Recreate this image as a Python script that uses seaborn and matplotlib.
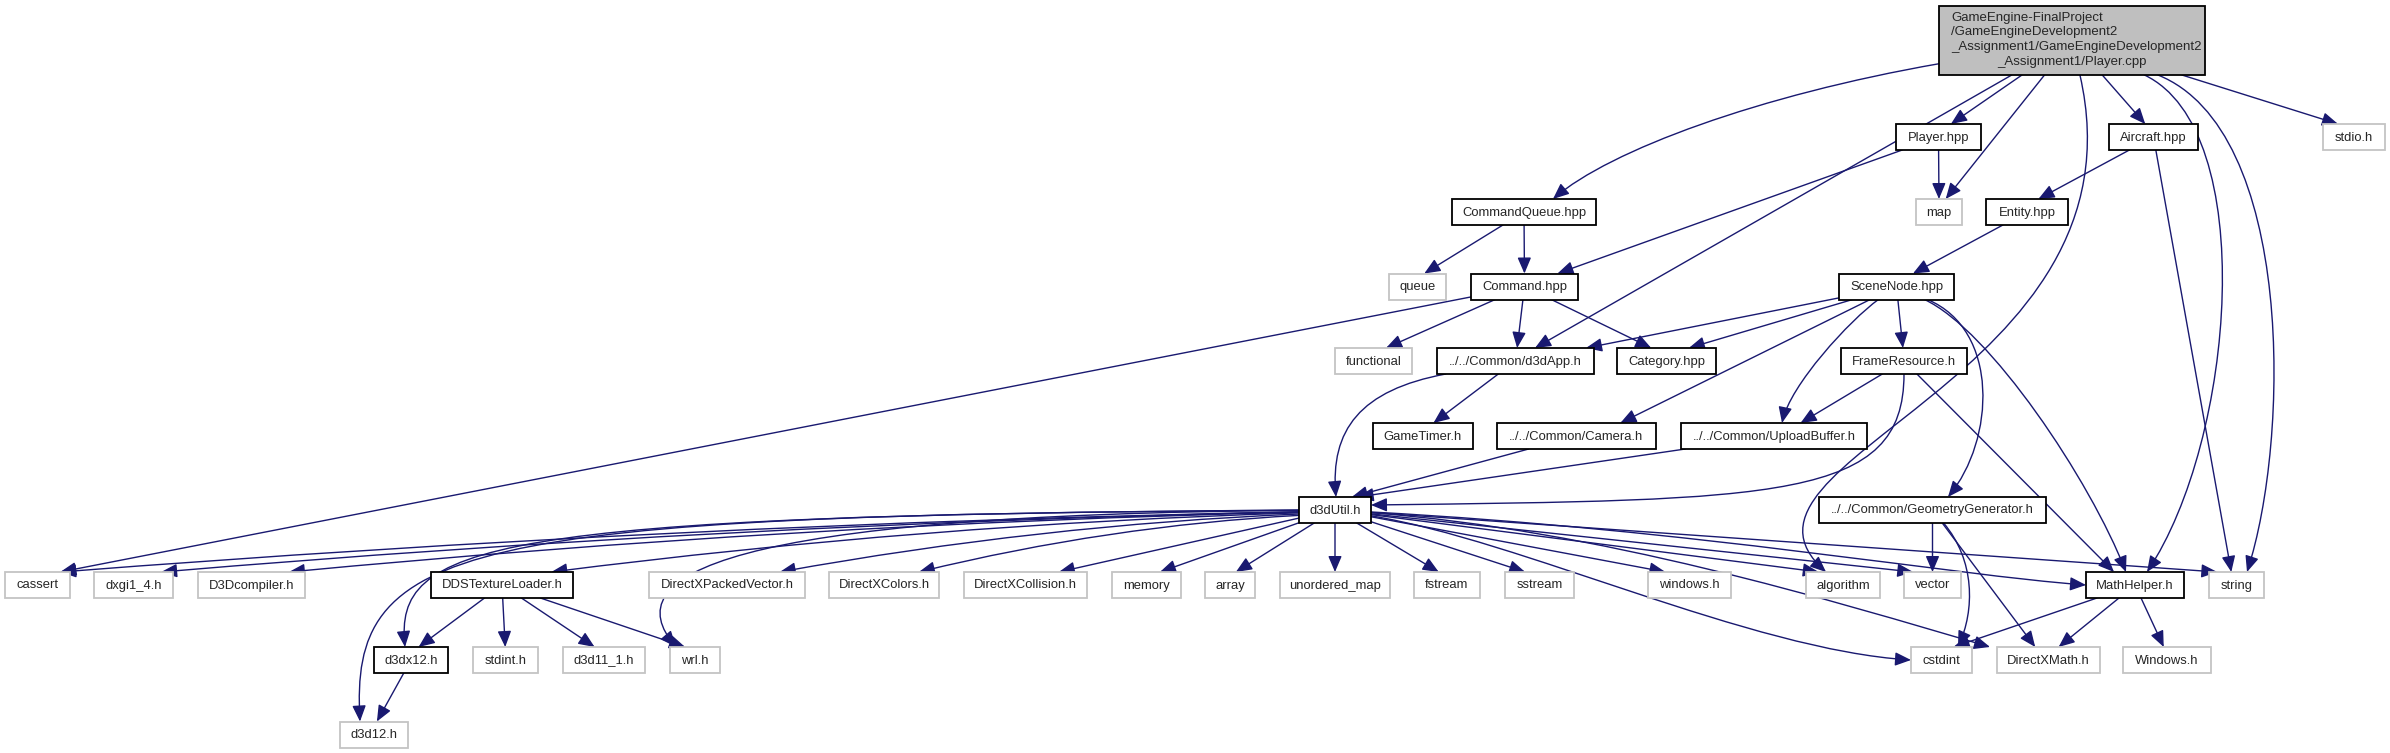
import numpy as np
import matplotlib
matplotlib.use("Agg")
import matplotlib.pyplot as plt
from matplotlib.patches import Rectangle, FancyArrowPatch
from matplotlib.path import Path
import seaborn as sns

# include graph of Player.cpp (doxygen style)
root_lines = ["GameEngine-FinalProject", "/GameEngineDevelopment2",
              "_Assignment1/GameEngineDevelopment2", "_Assignment1/Player.cpp"]

# node name -> (rank, left, right)
nodes = {
    "ROOT": (0, 1939, 2205),
    "Player.hpp": (1, 1896, 1981),
    "Aircraft.hpp": (1, 2109, 2198),
    "stdio.h": (1, 2323, 2385),
    "CommandQueue.hpp": (2, 1452, 1596),
    "map": (2, 1916, 1962),
    "Entity.hpp": (2, 1986, 2068),
    "queue": (3, 1389, 1446),
    "Command.hpp": (3, 1471, 1578),
    "SceneNode.hpp": (3, 1839, 1954),
    "functional": (4, 1335, 1412),
    "../../Common/d3dApp.h": (4, 1437, 1594),
    "Category.hpp": (4, 1617, 1716),
    "FrameResource.h": (4, 1841, 1967),
    "GameTimer.h": (5, 1373, 1473),
    "../../Common/Camera.h": (5, 1497, 1656),
    "../../Common/UploadBuffer.h": (5, 1681, 1867),
    "d3dUtil.h": (6, 1299, 1371),
    "../../Common/GeometryGenerator.h": (6, 1819, 2046),
    "cassert": (7, 5, 70),
    "dxgi1_4.h": (7, 94, 173),
    "D3Dcompiler.h": (7, 198, 305),
    "DDSTextureLoader.h": (7, 431, 573),
    "DirectXPackedVector.h": (7, 649, 805),
    "DirectXColors.h": (7, 829, 939),
    "DirectXCollision.h": (7, 964, 1087),
    "memory": (7, 1112, 1181),
    "array": (7, 1205, 1255),
    "unordered_map": (7, 1280, 1390),
    "fstream": (7, 1414, 1480),
    "sstream": (7, 1505, 1574),
    "windows.h": (7, 1648, 1731),
    "algorithm": (7, 1806, 1880),
    "vector": (7, 1904, 1961),
    "MathHelper.h": (7, 2086, 2184),
    "string": (7, 2209, 2264),
    "d3dx12.h": (8, 374, 448),
    "stdint.h": (8, 473, 538),
    "d3d11_1.h": (8, 563, 645),
    "wrl.h": (8, 670, 720),
    "cstdint": (8, 1911, 1972),
    "DirectXMath.h": (8, 1997, 2100),
    "Windows.h": (8, 2123, 2211),
    "d3d12.h": (9, 340, 408),
}

documented = ["Player.hpp", "Aircraft.hpp", "CommandQueue.hpp", "Entity.hpp",
              "Command.hpp", "SceneNode.hpp", "../../Common/d3dApp.h",
              "Category.hpp", "FrameResource.h", "GameTimer.h",
              "../../Common/Camera.h", "../../Common/UploadBuffer.h",
              "d3dUtil.h", "../../Common/GeometryGenerator.h",
              "DDSTextureLoader.h", "MathHelper.h", "d3dx12.h"]

edges = [
    ("ROOT", "CommandQueue.hpp"), ("ROOT", "Player.hpp"), ("ROOT", "map"),
    ("ROOT", "../../Common/d3dApp.h"), ("ROOT", "algorithm"),
    ("ROOT", "Aircraft.hpp"), ("ROOT", "MathHelper.h"), ("ROOT", "string"),
    ("ROOT", "stdio.h"),
    ("Player.hpp", "map"), ("Player.hpp", "Command.hpp"),
    ("Aircraft.hpp", "Entity.hpp"), ("Aircraft.hpp", "string"),
    ("Entity.hpp", "SceneNode.hpp"),
    ("CommandQueue.hpp", "queue"), ("CommandQueue.hpp", "Command.hpp"),
    ("Command.hpp", "functional"), ("Command.hpp", "../../Common/d3dApp.h"),
    ("Command.hpp", "Category.hpp"), ("Command.hpp", "cassert"),
    ("SceneNode.hpp", "../../Common/d3dApp.h"), ("SceneNode.hpp", "Category.hpp"),
    ("SceneNode.hpp", "../../Common/Camera.h"),
    ("SceneNode.hpp", "../../Common/UploadBuffer.h"),
    ("SceneNode.hpp", "FrameResource.h"),
    ("SceneNode.hpp", "../../Common/GeometryGenerator.h"),
    ("SceneNode.hpp", "MathHelper.h"),
    ("FrameResource.h", "../../Common/UploadBuffer.h"),
    ("FrameResource.h", "d3dUtil.h"), ("FrameResource.h", "MathHelper.h"),
    ("../../Common/d3dApp.h", "d3dUtil.h"), ("../../Common/d3dApp.h", "GameTimer.h"),
    ("../../Common/Camera.h", "d3dUtil.h"),
    ("../../Common/UploadBuffer.h", "d3dUtil.h"),
    ("../../Common/GeometryGenerator.h", "vector"),
    ("../../Common/GeometryGenerator.h", "cstdint"),
    ("../../Common/GeometryGenerator.h", "DirectXMath.h"),
    ("MathHelper.h", "cstdint"), ("MathHelper.h", "DirectXMath.h"),
    ("MathHelper.h", "Windows.h"),
    ("d3dUtil.h", "cassert"), ("d3dUtil.h", "dxgi1_4.h"),
    ("d3dUtil.h", "D3Dcompiler.h"), ("d3dUtil.h", "DDSTextureLoader.h"),
    ("d3dUtil.h", "d3dx12.h"), ("d3dUtil.h", "d3d12.h"), ("d3dUtil.h", "wrl.h"),
    ("d3dUtil.h", "DirectXPackedVector.h"), ("d3dUtil.h", "DirectXColors.h"),
    ("d3dUtil.h", "DirectXCollision.h"), ("d3dUtil.h", "memory"),
    ("d3dUtil.h", "array"), ("d3dUtil.h", "unordered_map"),
    ("d3dUtil.h", "fstream"), ("d3dUtil.h", "sstream"),
    ("d3dUtil.h", "windows.h"), ("d3dUtil.h", "algorithm"),
    ("d3dUtil.h", "vector"), ("d3dUtil.h", "MathHelper.h"),
    ("d3dUtil.h", "string"), ("d3dUtil.h", "cstdint"),
    ("d3dUtil.h", "DirectXMath.h"),
    ("DDSTextureLoader.h", "d3dx12.h"), ("DDSTextureLoader.h", "stdint.h"),
    ("DDSTextureLoader.h", "d3d11_1.h"), ("DDSTextureLoader.h", "wrl.h"),
    ("d3dx12.h", "d3d12.h"),
]

# spline routing (layout): edge -> (end x, end y, control 1, control 2)
routes = {
    ("ROOT", "CommandQueue.hpp"): (1553, None, (1760, 95), (1610, 150)),
    ("ROOT", "../../Common/d3dApp.h"): (1535, None, None, None),
    ("ROOT", "algorithm"): (1826, None, (2150, 380), (1700, 460)),
    ("ROOT", "MathHelper.h"): (2147, None, (2260, 130), (2235, 440)),
    ("ROOT", "string"): (2247, None, (2295, 130), (2290, 440)),
    ("SceneNode.hpp", "../../Common/d3dApp.h"): (1586, None, None, None),
    ("SceneNode.hpp", "../../Common/GeometryGenerator.h"): (1948, None, (2000, 330), (1995, 440)),
    ("SceneNode.hpp", "MathHelper.h"): (2126, None, (1990, 330), (2090, 480)),
    ("SceneNode.hpp", "../../Common/UploadBuffer.h"): (1782, None, (1850, 320), (1790, 385)),
    ("FrameResource.h", "MathHelper.h"): (2114, None, None, None),
    ("FrameResource.h", "d3dUtil.h"): (1371, 505, (1904, 500), (1780, 500)),
    ("../../Common/d3dApp.h", "d3dUtil.h"): (1336, None, (1360, 390), (1330, 430)),
    ("d3dUtil.h", "d3d12.h"): (360, None, (450, 515), (350, 545)),
    ("d3dUtil.h", "d3dx12.h"): (405, None, (480, 515), (395, 545)),
    ("d3dUtil.h", "wrl.h"): (676, None, (720, 515), (615, 575)),
    ("d3dUtil.h", "cstdint"): (1911, 660, (1520, 540), (1750, 650)),
    ("d3dUtil.h", "DirectXMath.h"): (1990, None, (1600, 530), (1830, 600)),
    ("d3dUtil.h", "MathHelper.h"): (2086, 585, (1700, 530), (1950, 575)),
    ("../../Common/GeometryGenerator.h", "cstdint"): (1958, None, (1975, 560), (1975, 610)),
}

# far-left edges out of d3dUtil.h bow slightly upwards
bow_up = ["cassert", "dxgi1_4.h", "D3Dcompiler.h", "DDSTextureLoader.h",
          "DirectXPackedVector.h", "DirectXColors.h"]

rank_y = [40.5, 137, 212, 286.5, 361, 436, 510, 585, 660, 734.5]
box_h = 26
root_h = 69
edge_color = "#191970"

sns.set_theme(style="white")
plt.rcParams["font.family"] = ["Liberation Sans", "DejaVu Sans"]


def box_of(name):
    rank, x0, x1 = nodes[name]
    h = root_h if name == "ROOT" else box_h
    yc = rank_y[rank]
    return x0, x1, yc - h / 2, yc + h / 2


def exit_point(name, toward):
    # where a ray from the box centre towards `toward` leaves the box
    x0, x1, y0, y1 = box_of(name)
    cx, cy = (x0 + x1) / 2, (y0 + y1) / 2
    dx, dy = toward[0] - cx, toward[1] - cy
    ts = []
    if dx != 0:
        ts.append(((x1 if dx > 0 else x0) - cx) / dx)
    if dy != 0:
        ts.append(((y1 if dy > 0 else y0) - cy) / dy)
    t = min(t for t in ts if t > 0)
    return cx + t * dx, cy + t * dy


fig = plt.figure(figsize=(23.9, 7.53), dpi=100)
ax = fig.add_axes([0, 0, 1, 1])
ax.set_xlim(0, 2390)
ax.set_ylim(753, 0)
ax.axis("off")

for name in nodes:
    x0, x1, y0, y1 = box_of(name)
    if name == "ROOT":
        ax.add_patch(Rectangle((x0, y0), x1 - x0, y1 - y0, facecolor="#bfbfbf",
                               edgecolor="black", lw=1.3, zorder=3))
        for i, line in enumerate(root_lines):
            ty = y0 + 11.5 + i * 14.8
            if i < 3:
                ax.text(x0 + 12, ty, line, ha="left", va="center",
                        fontsize=9.5, zorder=4)
            else:
                ax.text((x0 + x1) / 2, ty, line, ha="center", va="center",
                        fontsize=9.5, zorder=4)
    else:
        ec = "black" if name in documented else "#c4c4c4"
        ax.add_patch(Rectangle((x0, y0), x1 - x0, y1 - y0, facecolor="white",
                               edgecolor=ec, lw=1.3, zorder=3))
        ax.text((x0 + x1) / 2, (y0 + y1) / 2 + 0.5, name, ha="center",
                va="center", fontsize=9.4, zorder=4)

for src, dst in edges:
    sx0, sx1, sy0, sy1 = box_of(src)
    tx0, tx1, ty0, ty1 = box_of(dst)
    scx = (sx0 + sx1) / 2
    tcx = (tx0 + tx1) / 2
    w = tx1 - tx0
    end_x = tcx + 0.35 * w * np.tanh((scx - tcx) / 300.0)
    end_y = ty0
    c1 = c2 = None
    if (src, dst) in routes:
        rx, ry, c1, c2 = routes[(src, dst)]
        end_x = rx if rx is not None else end_x
        end_y = ry if ry is not None else end_y
    end = (end_x, end_y)
    start = exit_point(src, c1 if c1 is not None else end)
    if c1 is None:
        lift = 12 if (src == "d3dUtil.h" and dst in bow_up) else 0
        c1 = (start[0] + (end[0] - start[0]) / 3,
              start[1] + (end[1] - start[1]) / 3 - lift)
        c2 = (start[0] + 2 * (end[0] - start[0]) / 3,
              start[1] + 2 * (end[1] - start[1]) / 3 - lift)
    path = Path([start, c1, c2, end],
                [Path.MOVETO, Path.CURVE4, Path.CURVE4, Path.CURVE4])
    ax.add_patch(FancyArrowPatch(path=path,
                                 arrowstyle="-|>,head_length=0.75,head_width=0.32",
                                 mutation_scale=13, color=edge_color, lw=1.0,
                                 zorder=2))

fig.savefig("out.png", dpi=100, facecolor="white")
